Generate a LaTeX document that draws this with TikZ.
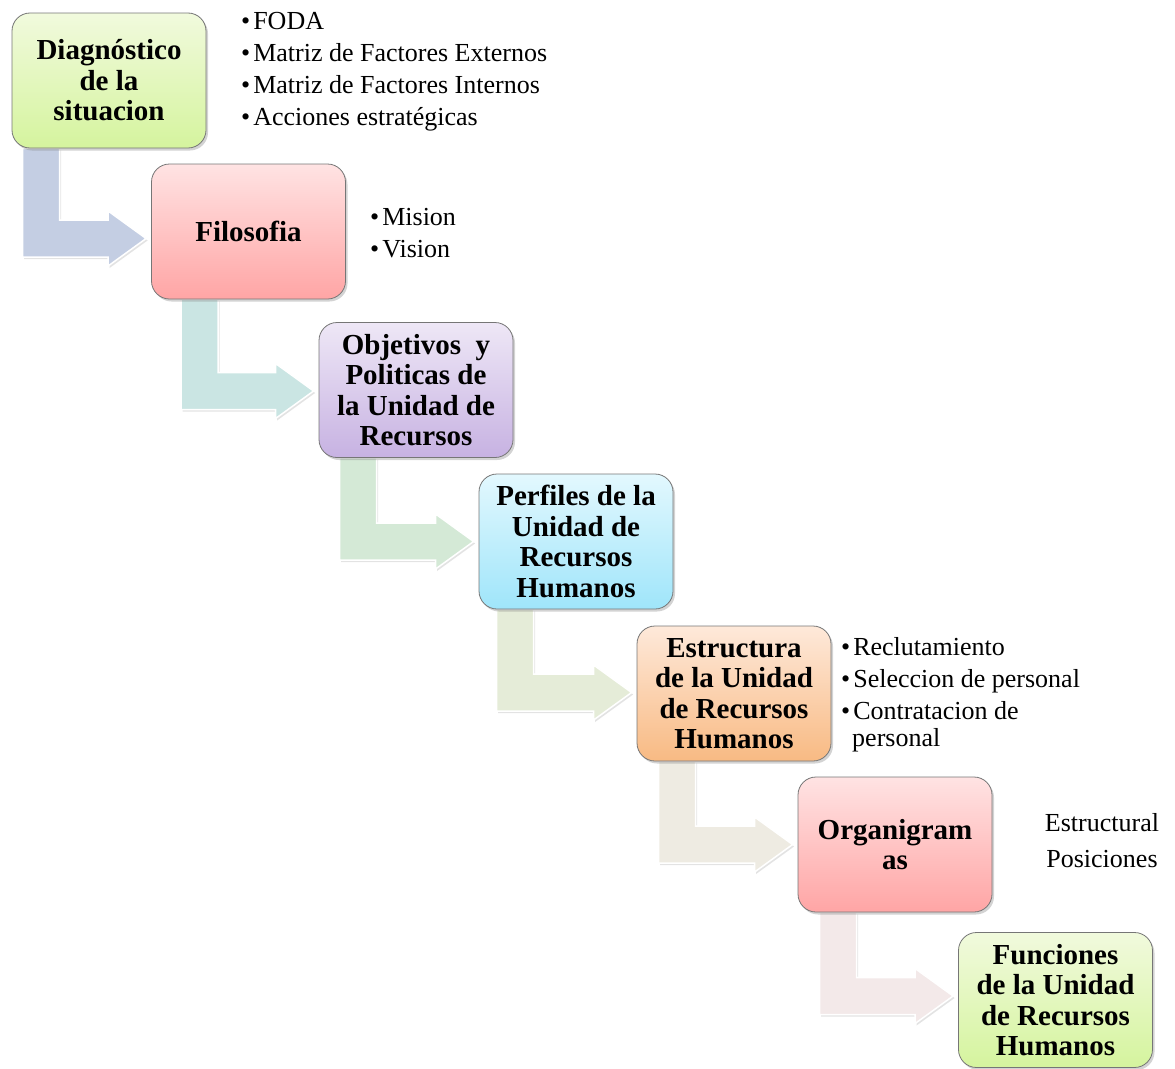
\documentclass[tikz,border=0pt]{standalone}
\usepackage{fontspec}
\setmainfont{Liberation Serif}
\usetikzlibrary{calc,shadows,backgrounds}

% box fills (top / bottom of the vertical gradient)
\definecolor{greenT}{HTML}{F1FADD}\definecolor{greenB}{HTML}{D5F49E}
\definecolor{pinkT}{HTML}{FFE3E3}\definecolor{pinkB}{HTML}{FFA5A5}
\definecolor{violetT}{HTML}{EEE7F6}\definecolor{violetB}{HTML}{C7B2E2}
\definecolor{cyanT}{HTML}{E3F8FE}\definecolor{cyanB}{HTML}{9FE5FA}
\definecolor{orangeT}{HTML}{FEE9DA}\definecolor{orangeB}{HTML}{F8BA83}
\definecolor{boxedge}{HTML}{767676}
% bent connector fills
\definecolor{arrA}{HTML}{C4CEE3}
\definecolor{arrB}{HTML}{CAE5E3}
\definecolor{arrC}{HTML}{D4E9D6}
\definecolor{arrD}{HTML}{E5ECD8}
\definecolor{arrE}{HTML}{EEEBE2}
\definecolor{arrF}{HTML}{F3E9E9}

\newcommand\bul{\textbullet\hspace{3pt}}

\begin{document}
\begin{tikzpicture}[x=1pt,y=-1pt,
  stage/.style={draw=boxedge, line width=0.8pt, rounded corners=18pt,
    minimum width=194pt, minimum height=135pt, inner sep=0pt, align=center,
    font=\fontsize{29}{30.5}\selectfont\bfseries,
    drop shadow={opacity=0.35, shadow xshift=2pt, shadow yshift=-2.5pt}},
  gradient/.style 2 args={top color=#1, bottom color=#2},
  listitem/.style={anchor=base west, inner sep=0pt,
    font=\fontsize{26}{32}\selectfont},
  bent/.style={fill=#1, draw=white, line width=1.5pt, line join=miter,
    drop shadow={opacity=0.22, shadow xshift=1.5pt, shadow yshift=-2pt}}]
\useasboundingbox (0,0) rectangle (1175,1068);

% the seven stages
\node[stage, gradient={greenT}{greenB}]   (b1) at (109,80.5)   {Diagnóstico\\de la\\situacion};
\node[stage, gradient={pinkT}{pinkB}]     (b2) at (248.5,231.5) {Filosofia};
\node[stage, gradient={violetT}{violetB}] (b3) at (416,390)    {Objetivos\ \ y\\Politicas de\\la Unidad de\\Recursos};
\node[stage, gradient={cyanT}{cyanB}]     (b4) at (576,541.5)  {Perfiles de la\\Unidad de\\Recursos\\Humanos};
\node[stage, gradient={orangeT}{orangeB}] (b5) at (734,693.5)  {Estructura\\de la Unidad\\de Recursos\\Humanos};
\node[stage, gradient={pinkT}{pinkB}]     (b6) at (895,844.5)  {Organigram\\as};
\node[stage, gradient={greenT}{greenB}]   (b7) at (1055.5,1000) {Funciones\\de la Unidad\\de Recursos\\Humanos};

% bent arrows from each stage down into the next one
\begin{scope}[on background layer]
\foreach \a/\b/\sx/\dy/\col in {b1/b2/11/7/arrA, b2/b3/30/1/arrB, b3/b4/21/0/arrC,
                                 b4/b5/18/-1/arrD, b5/b6/22/0/arrE, b6/b7/22/-4/arrF}{
  \coordinate (s) at ($(\a.south west)+(\sx,0)$);
  \coordinate (t) at ($(\b.west)+(-5,\dy)$);
  \path[bent=\col] (s) -- ++(37,0) |- ($(t)+(-38,-18.5)$) -- ++(0,-9) -- (t)
    -- ++(-38,27.5) -- ++(0,-9) -| (s) -- cycle;
}
\end{scope}

% side lists
\node[listitem] (l11) at (241,29)  {\bul FODA};
\node[listitem] (l12) at (241,61)  {\bul Matriz de Factores Externos};
\node[listitem] (l13) at (241,93)  {\bul Matriz de Factores Internos};
\node[listitem] (l14) at (241,125) {\bul Acciones\ estratégicas};

\node[listitem] (l21) at (370,225) {\bul Mision};
\node[listitem] (l22) at (370,257) {\bul Vision};

\node[listitem] (l51) at (841,655) {\bul Reclutamiento};
\node[listitem] (l52) at (841,687) {\bul Seleccion de personal};
\node[listitem] (l53) at (841,719) {\bul Contratacion de};
\node[listitem] (l54) at (852,746) {personal};

\node[listitem, anchor=base] (l61) at (1102,831) {Estructural};
\node[listitem, anchor=base] (l62) at (1102,867) {Posiciones};
\end{tikzpicture}
\end{document}
